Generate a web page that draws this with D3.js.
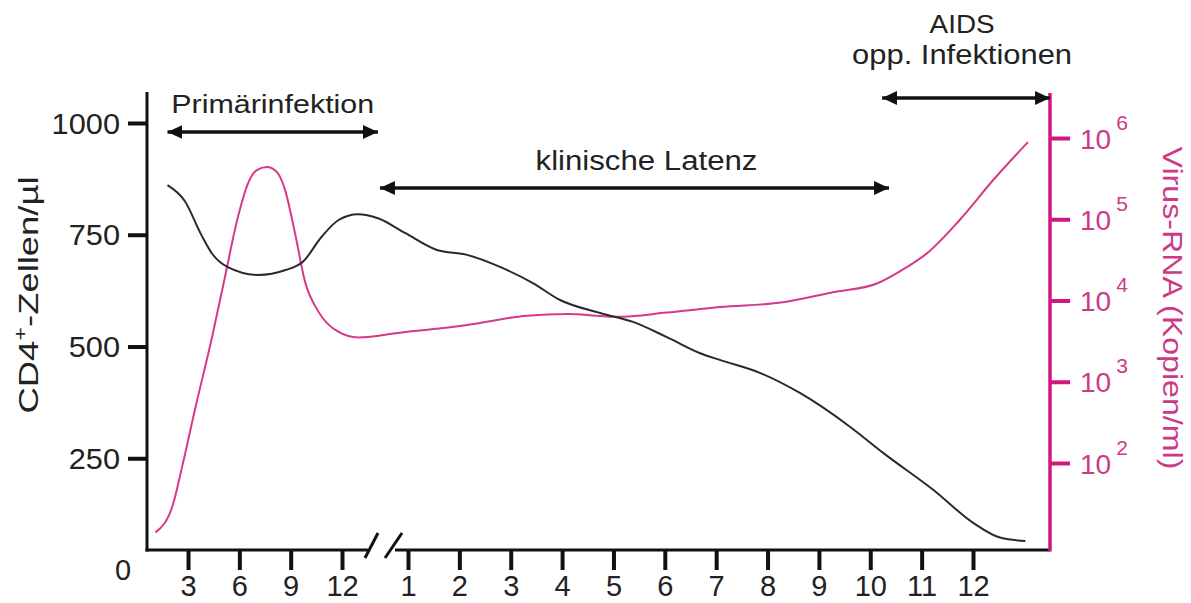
<!DOCTYPE html>
<html>
<head>
<meta charset="utf-8">
<script src="https://cdn.jsdelivr.net/npm/d3@7"></script>
<style>
  html, body { margin: 0; padding: 0; background: #fff; }
  svg { display: block; }
  text { font-family: "Liberation Sans", Arial, Helvetica, sans-serif; }
</style>
</head>
<body>
<script>
// Time axis: weeks for the primary infection, years for the later course.
const weekTicks = [3, 6, 9, 12];
const yearTicks = [1, 2, 3, 4, 5, 6, 7, 8, 9, 10, 11, 12];
const cd4Ticks = [250, 500, 750, 1000];
const rnaTicks = [1e2, 1e3, 1e4, 1e5, 1e6];

// CD4+ cells per µl: [week, value] during the first weeks, [year, value] afterwards
const cd4Weeks = [
  [1.8, 861], [2.8, 826], [3.8, 748], [4.4, 708], [5.3, 678], [7.1, 660],
  [8.7, 671], [9.7, 689], [10.8, 745], [11.8, 783], [21.7, 796], [33.8, 787], [50.2, 754]
];
const cd4Years = [
  [1.56, 716], [2.15, 705], [2.79, 678], [3.43, 642], [3.96, 604], [4.74, 575],
  [5.38, 555], [6.04, 521], [6.69, 485], [7.07, 470], [7.85, 441], [8.63, 396],
  [9.61, 320], [10.25, 262], [11.23, 179], [12.01, 105], [12.54, 72], [13.02, 65]
];

// Virus RNA copies per ml
const rnaWeeks = [
  [1.1, 14], [2.1, 30], [2.65, 89], [3.4, 450], [4.4, 3500], [5.16, 19500],
  [5.92, 107000], [6.5, 275000], [7.0, 400000], [7.6, 440000], [8.2, 380000],
  [8.67, 230000], [9.25, 68000], [9.84, 17000], [10.6, 7400], [11.8, 4100],
  [21.7, 3500], [50.2, 4100]
];
const rnaYears = [
  [1.56, 4500], [2.15, 5000], [3.32, 6500], [4.10, 6800], [5.07, 6300], [6.04, 7100],
  [7.07, 8300], [8.30, 9500], [9.27, 12600], [10.13, 16200], [10.71, 25700],
  [11.10, 38000], [11.74, 98000], [12.39, 302000], [13.07, 890000]
];

// Phases of the disease course, in weeks
const phases = [
  { label: ["Primärinfektion"], start: 1.8, end: 33.8 },
  { label: ["klinische Latenz"], start: 35, end: 539 },
  { label: ["AIDS", "opp. Infektionen"], start: 532, end: 702 }
];

const W = 1191, H = 603;
const pink = "#d1177f", pinkText = "#cc3a87";
const axisLeftX = 147, axisRightX = 1050, axisBottomY = 550, axisTopY = 92;

const svg = d3.select("body").append("svg").attr("width", W).attr("height", H);

// x: weeks, with a broken axis between week 12 and year 1
const x = d3.scaleLinear().domain([0, 12, 52, 624]).range([136.7, 342, 408, 973]);
const y = d3.scaleLinear().domain([0, 1000]).range([570, 123]);
const yV = d3.scaleLog().domain([1e2, 1e6]).range([463, 138]);

const toWeeks = d => [d[0] * 52, d[1]];
const cd4 = cd4Weeks.concat(cd4Years.map(toWeeks));
const rna = rnaWeeks.concat(rnaYears.map(toWeeks));

// text helper: horizontally widened glyphs, anchored at (px, py)
function label(parent, px, py, str, opts = {}) {
  const g = parent.append("g")
    .attr("transform", `translate(${px},${py}) rotate(${opts.rotate || 0})`);
  const t = g.append("text")
    .attr("text-anchor", opts.anchor || "start")
    .attr("font-size", opts.size || 28)
    .attr("fill", opts.fill || "#222")
    .text(str);
  if (opts.width) {
    const w = t.node().getComputedTextLength();
    t.attr("transform", `scale(${opts.width / w},1)`);
  } else if (opts.sx) {
    t.attr("transform", `scale(${opts.sx},1)`);
  }
  return t;
}

// ---- curves ----
const line = (ys) => d3.line()
  .x(d => x(d[0])).y(d => ys(d[1]))
  .curve(d3.curveMonotoneX);

svg.append("path").datum(rna)
  .attr("d", line(yV)).attr("fill", "none")
  .attr("stroke", "#d43a8a").attr("stroke-width", 2);

svg.append("path").datum(cd4)
  .attr("d", line(y)).attr("fill", "none")
  .attr("stroke", "#2a2a2a").attr("stroke-width", 2);

// ---- left axis ----
const gL = svg.append("g").attr("transform", `translate(${axisLeftX},0)`)
  .call(d3.axisLeft(y).tickValues(cd4Ticks).tickSize(19).tickFormat(d3.format("d")));
gL.select(".domain").remove();
gL.selectAll(".tick line").attr("stroke", "#111").attr("stroke-width", 4);
gL.selectAll(".tick text")
  .attr("x", 0).attr("dy", "0.35em")
  .attr("font-size", 29).attr("fill", "#222")
  .attr("font-family", "Liberation Sans, Arial, sans-serif")
  .attr("transform", "translate(-27,0) scale(1.06,1)");
label(svg, 123, y(0) + 10, "0", { anchor: "middle", size: 29 });
svg.append("line").attr("x1", axisLeftX).attr("x2", axisLeftX)
  .attr("y1", axisTopY).attr("y2", axisBottomY + 1.5)
  .attr("stroke", "#111").attr("stroke-width", 3);

// ---- bottom axis (weeks | years) ----
function bottomAxis(values, fmt) {
  const g = svg.append("g").attr("transform", `translate(0,${axisBottomY})`)
    .call(d3.axisBottom(x).tickValues(values).tickSize(20).tickFormat(fmt));
  g.select(".domain").remove();
  g.selectAll(".tick line").attr("stroke", "#111").attr("stroke-width", 4);
  g.selectAll(".tick text")
    .attr("y", 46).attr("dy", 0)
    .attr("font-size", 29).attr("fill", "#222")
    .attr("font-family", "Liberation Sans, Arial, sans-serif");
}
bottomAxis(weekTicks, d => d);
bottomAxis(yearTicks.map(v => v * 52), d => d / 52);

const xBreakL = 368, xBreakR = 395;
svg.append("line").attr("x1", axisLeftX - 1.5).attr("x2", xBreakL)
  .attr("y1", axisBottomY).attr("y2", axisBottomY).attr("stroke", "#111").attr("stroke-width", 3);
svg.append("line").attr("x1", xBreakR).attr("x2", axisRightX)
  .attr("y1", axisBottomY).attr("y2", axisBottomY).attr("stroke", "#111").attr("stroke-width", 3);
[[365, 378], [385, 402]].forEach(([a, b]) => {
  svg.append("line").attr("x1", a).attr("y1", 558).attr("x2", b).attr("y2", 533)
    .attr("stroke", "#111").attr("stroke-width", 3);
});

// ---- right axis (log copies) ----
const gR = svg.append("g").attr("transform", `translate(${axisRightX},0)`)
  .call(d3.axisRight(yV).tickValues(rnaTicks).tickSize(20).tickFormat(""));
gR.select(".domain").remove();
gR.selectAll(".tick line").attr("stroke", pink).attr("stroke-width", 4);
gR.selectAll(".tick").each(function (d) {
  const t = d3.select(this).append("text")
    .attr("x", 30).attr("y", 10)
    .attr("font-size", 28).attr("fill", pinkText)
    .attr("font-family", "Liberation Sans, Arial, sans-serif");
  t.append("tspan").text("10");
  t.append("tspan").attr("dx", 5).attr("dy", -19).attr("font-size", 21)
    .text(Math.round(Math.log10(d)));
});
svg.append("line").attr("x1", axisRightX).attr("x2", axisRightX)
  .attr("y1", axisTopY + 1).attr("y2", axisBottomY + 1.5)
  .attr("stroke", pink).attr("stroke-width", 3.5);

// ---- axis titles ----
{
  const g = svg.append("g").attr("transform", "translate(38,295) rotate(-90)");
  const t = g.append("text").attr("text-anchor", "middle")
    .attr("font-size", 28).attr("fill", "#222");
  t.append("tspan").text("CD4");
  t.append("tspan").attr("font-size", 18).attr("dy", -11).text("+");
  t.append("tspan").attr("dy", 11).text("-Zellen/µl");
  const w = t.node().getBBox().width;
  t.attr("transform", `scale(${237 / w},1)`);
}
label(svg, 1163, 308, "Virus-RNA (Kopien/ml)",
  { anchor: "middle", rotate: 90, size: 27, fill: pinkText, width: 323 });

// ---- phase arrows ----
const defs = svg.append("defs");
defs.append("marker").attr("id", "arrowhead")
  .attr("viewBox", "0 0 15 14").attr("refX", 15).attr("refY", 7)
  .attr("markerWidth", 15).attr("markerHeight", 14)
  .attr("markerUnits", "userSpaceOnUse").attr("orient", "auto-start-reverse")
  .append("path").attr("d", "M0,0 L15,7 L0,14 Z").attr("fill", "#111");

const arrowY = [132, 188, 98];
const labelLayout = [
  { dx: 0, ys: [113], widths: [203], sizes: [26] },
  { dx: 12, ys: [170], widths: [222], sizes: [27] },
  { dx: -4, ys: [33, 64], widths: [65, 220], sizes: [26, 27] }
];
phases.forEach((p, i) => {
  const x1 = x(p.start), x2 = x(p.end), yy = arrowY[i];
  svg.append("line").attr("x1", x1).attr("x2", x2).attr("y1", yy).attr("y2", yy)
    .attr("stroke", "#111").attr("stroke-width", 3.5)
    .attr("marker-start", "url(#arrowhead)").attr("marker-end", "url(#arrowhead)");
  const L = labelLayout[i];
  p.label.forEach((s, j) => {
    label(svg, (x1 + x2) / 2 + L.dx, L.ys[j], s,
      { anchor: "middle", size: L.sizes[j], width: L.widths[j] });
  });
});
</script>
</body>
</html>
